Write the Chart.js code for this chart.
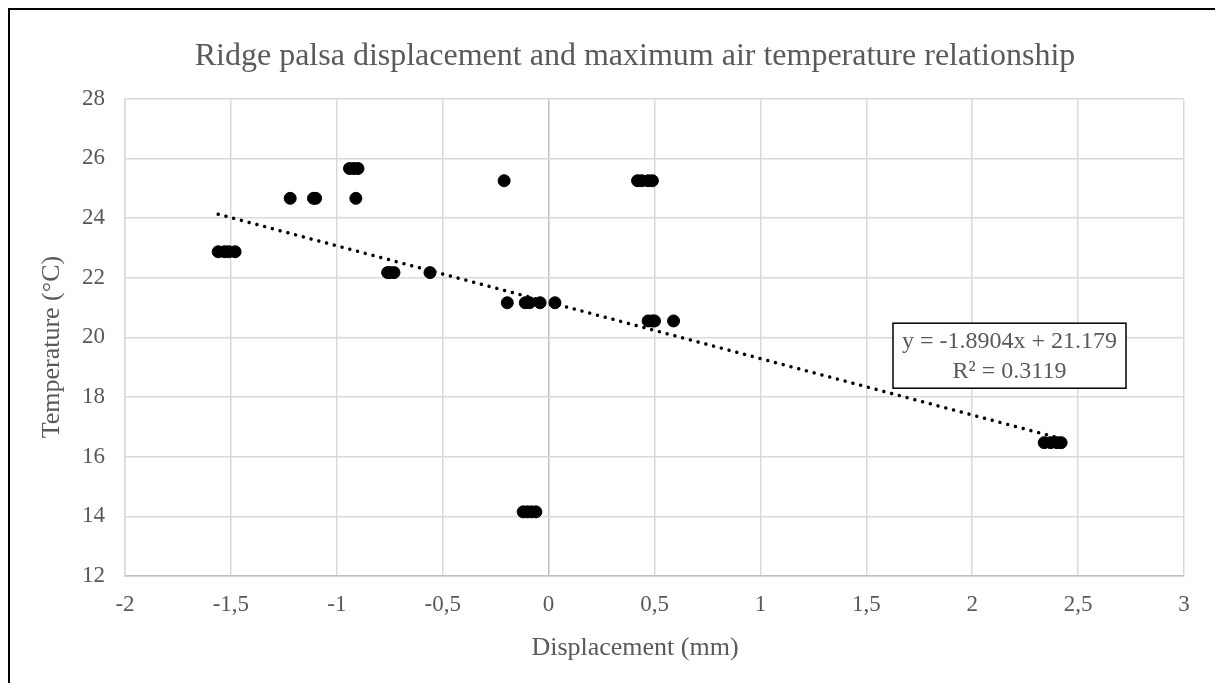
<!DOCTYPE html>
<html>
<head>
<meta charset="utf-8">
<script src="https://cdn.jsdelivr.net/npm/chart.js@4/dist/chart.umd.min.js"></script>
<style>
  html, body { margin: 0; padding: 0; background: #ffffff; overflow: hidden; width: 1215px; height: 683px; }
  #wrap { position: absolute; left: 0; top: 0; width: 1270px; height: 683px; }
  #frame { position: absolute; left: 8px; top: 8px; width: 1300px; height: 800px; border: 2px solid #000; box-sizing: border-box; pointer-events: none; }
</style>
</head>
<body>
<div id="wrap"><canvas id="c" width="1270" height="683"></canvas></div>
<div id="frame"></div>
<script>
// ---- data ----
const displacement = [
  -1.56, -1.53, -1.51, -1.48,
  -1.22, -1.11, -1.10, -0.91,
  -0.94, -0.92, -0.90,
  -0.76, -0.75, -0.73, -0.56,
  -0.21, 0.42, 0.44, 0.47, 0.49,
  -0.195, -0.11, -0.09, -0.04, 0.03,
  0.47, 0.49, 0.50, 0.59,
  2.34, 2.37, 2.40, 2.42,
  -0.12, -0.10, -0.08, -0.06
];
const temperature = [
  22.87, 22.87, 22.87, 22.87,
  24.66, 24.66, 24.66, 24.66,
  25.66, 25.66, 25.66,
  22.17, 22.17, 22.17, 22.17,
  25.25, 25.25, 25.25, 25.25, 25.25,
  21.16, 21.16, 21.16, 21.16, 21.16,
  20.55, 20.55, 20.55, 20.55,
  16.47, 16.47, 16.47, 16.47,
  14.15, 14.15, 14.15, 14.15
];
const trendSlope = -1.8904;
const trendIntercept = 21.179;
const trendLabel = ['y = -1.8904x + 21.179', 'R\u00B2 = 0.3119'];
const xMin = -2, xMax = 3, xStep = 0.5;
const yMin = 12, yMax = 28, yStep = 2;
const chartTitle = 'Ridge palsa displacement and maximum air temperature relationship';
const xTitle = 'Displacement (mm)';
const yTitle = 'Temperature (\u00B0C)';

// ---- build ----
const points = displacement.map((x, i) => ({ x: x, y: temperature[i] }));
const tMinX = Math.min(...displacement), tMaxX = Math.max(...displacement);
const trendPts = [tMinX, tMaxX].map(x => ({ x: x, y: trendSlope * x + trendIntercept }));

const FONT = "'Liberation Serif', 'Times New Roman', serif";
const GREY = '#595959';

const labelBox = {
  id: 'labelBox',
  afterDatasetsDraw(chart) {
    const { ctx, chartArea: a } = chart;
    const w = 233, h = 65;
    const cx = a.left + 884.5;
    const top = a.top + 224.5;
    ctx.save();
    ctx.fillStyle = '#fff';
    ctx.fillRect(cx - w / 2, top, w, h);
    ctx.strokeStyle = '#000';
    ctx.lineWidth = 1.5;
    ctx.strokeRect(cx - w / 2, top, w, h);
    ctx.fillStyle = GREY;
    ctx.font = "24px " + FONT;
    ctx.textAlign = 'center';
    ctx.textBaseline = 'middle';
    ctx.fillText(trendLabel[0], cx, top + 18.5);
    ctx.fillText(trendLabel[1], cx, top + 48.5);
    ctx.restore();
  }
};

new Chart(document.getElementById('c'), {
  type: 'scatter',
  data: {
    datasets: [
      {
        label: 'data',
        data: points,
        pointRadius: 6,
        pointHoverRadius: 6,
        pointBackgroundColor: '#000',
        pointBorderColor: '#000',
        pointBorderWidth: 1,
        order: 2
      },
      {
        label: 'trend',
        type: 'line',
        data: trendPts,
        borderColor: '#000',
        borderWidth: 3.5,
        borderDash: [0.01, 8],
        borderCapStyle: 'round',
        pointRadius: 0,
        fill: false,
        order: 1
      }
    ]
  },
  options: {
    responsive: false,
    animation: false,
    devicePixelRatio: 1,
    layout: { padding: 0 },
    plugins: {
      legend: { display: false },
      tooltip: { enabled: false },
      title: {
        display: true,
        text: chartTitle,
        color: GREY,
        font: { family: FONT, size: 32, weight: 'normal' },
        padding: { top: 37, bottom: 23.3 }
      }
    },
    scales: {
      x: {
        type: 'linear',
        min: xMin, max: xMax,
        afterFit(s) { s.height = 107; },
        ticks: {
          stepSize: xStep,
          color: GREY,
          padding: 15,
          font: { family: FONT, size: 23 },
          callback: v => String(v).replace('.', ',')
        },
        grid: {
          drawTicks: false,
          lineWidth: 1.5,
          color: ctx => (ctx.tick && ctx.tick.value === 0 ? '#c0c0c0' : '#d9d9d9')
        },
        border: { color: '#bfbfbf', width: 1.5 },
        title: {
          display: true,
          text: xTitle + '      ',
          color: GREY,
          font: { family: FONT, size: 26 },
          padding: { top: 0, bottom: 19.5 }
        }
      },
      y: {
        type: 'linear',
        min: yMin, max: yMax,
        afterFit(s) { s.width = 125; },
        ticks: {
          stepSize: yStep,
          color: GREY,
          padding: 20,
          font: { family: FONT, size: 23 }
        },
        grid: { drawTicks: false, lineWidth: 1.5, color: '#d9d9d9' },
        border: { color: '#d9d9d9', width: 1.5 },
        title: {
          display: true,
          text: yTitle + '   ',
          color: GREY,
          font: { family: FONT, size: 26 },
          padding: { top: 37, bottom: 0 }
        }
      },
      ySpace: {
        type: 'linear',
        position: 'right',
        min: yMin, max: yMax,
        afterFit(s) { s.width = 86; },
        ticks: { display: false },
        grid: { display: false, drawOnChartArea: false },
        border: { display: false }
      }
    }
  },
  plugins: [labelBox]
});
</script>
</body>
</html>
